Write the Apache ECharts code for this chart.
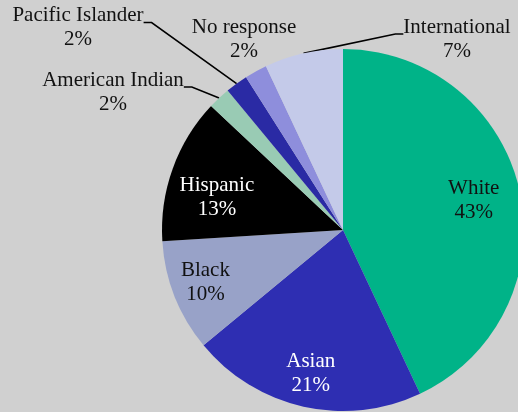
<!DOCTYPE html>
<html>
<head>
<meta charset="utf-8">
<script src="https://cdn.jsdelivr.net/npm/echarts@6/dist/echarts.min.js"></script>
<style>
html,body{margin:0;padding:0;background:#d0d0d0;}
#chart{width:518px;height:412px;}
</style>
</head>
<body>
<div id="chart"></div>
<script>
// Data
const categories = ['White', 'Asian', 'Black', 'Hispanic', 'American Indian', 'Pacific Islander', 'No response', 'International'];
const shares = [43, 21, 10, 13, 2, 2, 2, 7];
const colors = ['#00b388', '#2e2eb2', '#98a2c8', '#000000', '#99cbb4', '#2a2aa4', '#8e8edc', '#c4cae9'];

const FONT = '"Liberation Serif", "DejaVu Serif", serif';
const FS = 21;
const LH = 24;
const insideColors = { 'White': '#111', 'Asian': '#fff', 'Black': '#111', 'Hispanic': '#fff' };
const innerNear = ['White', 'Hispanic'];
const innerFar = ['Asian', 'Black'];
const outside = ['American Indian', 'Pacific Islander', 'No response', 'International'];

// text placement for outer labels
const outerPos = {
  'Pacific Islander': [78, 22.5],
  'American Indian': [113, 87],
  'No response': [244, 39],
  'International': [457, 34]
};
const innerShift = { 'Hispanic': 13, 'Black': -2, 'Asian': -1 };

const center = [343, 230];
const R = 181;

const txt = { fontFamily: FONT, fontSize: FS, color: '#111', lineHeight: LH };

function mainData() {
  return categories.map((c, i) => {
    const isOut = outside.indexOf(c) >= 0;
    return {
      name: c,
      value: shares[i],
      itemStyle: { color: colors[i] },
      label: isOut ? {
        show: true,
        position: 'outside',
        formatter: '{n|' + c + '}\n{n|' + shares[i] + '%}',
        align: 'center',
        padding: c === 'No response' ? 0 : [10, 0, 0, 0],
        rich: { n: txt }
      } : { show: false },
      labelLine: isOut && c !== 'No response' ? { show: true, length: 10, length2: 8 } : { show: false }
    };
  });
}

function helperData(list) {
  return categories.map((c, i) => ({
    name: c,
    value: shares[i],
    itemStyle: { color: 'rgba(0,0,0,0)' },
    label: list.indexOf(c) >= 0 ? {
      show: true,
      color: insideColors[c]
    } : { show: false },
    labelLine: { show: false }
  }));
}

function innerLayout(p) {
  const name = categories[p.dataIndex];
  return { dy: innerShift[name] || 0 };
}

const chart = echarts.init(document.getElementById('chart'), null, { renderer: 'canvas' });
chart.setOption({
  backgroundColor: '#d0d0d0',
  animation: false,
  series: [
    {
      type: 'pie',
      center: center,
      radius: [0, R],
      startAngle: 90,
      clockwise: true,
      avoidLabelOverlap: false,
      itemStyle: { borderWidth: 0 },
      label: txt,
      labelLine: { lineStyle: { color: '#000', width: 1.6 }, smooth: false },
      labelLayout: function (p) {
        const name = categories[p.dataIndex];
        const pos = outerPos[name];
        if (!pos) return {};
        return { x: pos[0], y: pos[1], align: 'center', verticalAlign: 'middle' };
      },
      emphasis: { disabled: true },
      data: mainData()
    },
    {
      type: 'pie',
      center: center,
      radius: [0, 2 * 131],
      startAngle: 90,
      silent: true,
      z: 5,
      label: { position: 'inside', fontFamily: FONT, fontSize: FS, lineHeight: LH, formatter: '{b}\n{c}%' },
      labelLayout: innerLayout,
      emphasis: { disabled: true },
      data: helperData(innerNear)
    },
    {
      type: 'pie',
      center: center,
      radius: [0, 2 * 145],
      startAngle: 90,
      silent: true,
      z: 5,
      label: { position: 'inside', fontFamily: FONT, fontSize: FS, lineHeight: LH, formatter: '{b}\n{c}%' },
      labelLayout: innerLayout,
      emphasis: { disabled: true },
      data: helperData(innerFar)
    }
  ]
});
</script>
</body>
</html>
